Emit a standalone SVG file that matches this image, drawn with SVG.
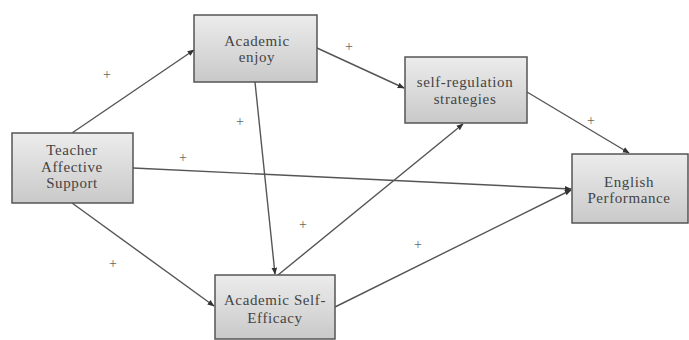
<svg xmlns="http://www.w3.org/2000/svg" width="689" height="340" viewBox="0 0 689 340">
<style>
.box{fill:url(#g);stroke:#555;stroke-width:1.5}
.t{font-family:"Liberation Serif",serif;font-size:15px;letter-spacing:0.6px;fill:#444;text-anchor:middle}
.p{font-family:"Liberation Serif",serif;font-size:14px;fill:#666;text-anchor:middle}
.c{stroke:#555;stroke-width:1.4;fill:none;marker-end:url(#a)}
</style>
<defs>
<linearGradient id="g" x1="0" y1="0" x2="0" y2="1">
<stop offset="0" stop-color="#ececec"/>
<stop offset="1" stop-color="#c9c9c9"/>
</linearGradient>
<marker id="a" viewBox="0 0 10 10" refX="9" refY="5" markerWidth="5" markerHeight="5" orient="auto" markerUnits="strokeWidth">
<path d="M0,1 L10,5 L0,9 z" fill="#333"/>
</marker>
</defs>
<rect width="689" height="340" fill="#fff"/>
<g id="connectors">
<line class="c" x1="72" y1="133" x2="194" y2="50"/>
<line class="c" x1="72" y1="203" x2="214" y2="306"/>
<line class="c" x1="133" y1="168" x2="571" y2="189"/>
<line class="c" x1="317" y1="48" x2="404" y2="88"/>
<line class="c" x1="255" y1="82" x2="275" y2="274"/>
<line class="c" x1="278" y1="275" x2="463" y2="124"/>
<line class="c" x1="527" y1="92" x2="629" y2="153"/>
<line class="c" x1="335" y1="307" x2="571" y2="190"/>
</g>
<g id="labels">
<text class="p" x="107" y="79">+</text>
<text class="p" x="349" y="51">+</text>
<text class="p" x="240" y="126">+</text>
<text class="p" x="183" y="162">+</text>
<text class="p" x="591" y="125">+</text>
<text class="p" x="303" y="229">+</text>
<text class="p" x="418" y="249">+</text>
<text class="p" x="113" y="268">+</text>
</g>
<g id="teacher">
<rect class="box" x="12" y="133" width="121" height="70"/>
<text class="t" x="72" y="155">Teacher</text>
<text class="t" x="72" y="171.5">Affective</text>
<text class="t" x="72" y="188">Support</text>
</g>
<g id="enjoy">
<rect class="box" x="194" y="15" width="123" height="67"/>
<text class="t" x="257" y="46">Academic</text>
<text class="t" x="257" y="62">enjoy</text>
</g>
<g id="selfreg">
<rect class="box" x="405" y="57" width="122" height="66"/>
<text class="t" x="465" y="87">self-regulation</text>
<text class="t" x="465" y="104">strategies</text>
</g>
<g id="english">
<rect class="box" x="572" y="154" width="116" height="69"/>
<text class="t" x="629" y="187">English</text>
<text class="t" x="629" y="203">Performance</text>
</g>
<g id="efficacy">
<rect class="box" x="215" y="275" width="120" height="64"/>
<text class="t" x="275" y="305">Academic Self-</text>
<text class="t" x="275" y="323">Efficacy</text>
</g>
</svg>
